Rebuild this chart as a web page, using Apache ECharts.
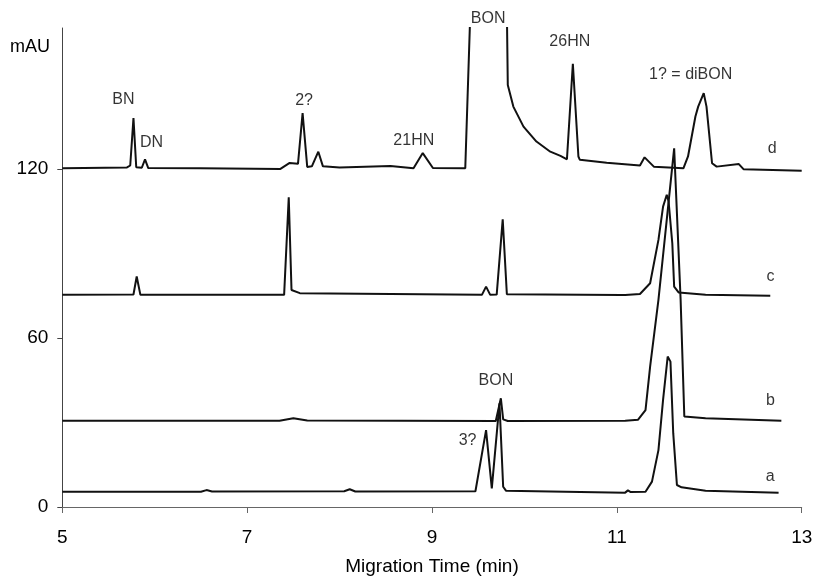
<!DOCTYPE html>
<html>
<head>
<meta charset="utf-8">
<script src="https://cdn.jsdelivr.net/npm/echarts@6/dist/echarts.min.js"></script>
<style>
  html, body { margin: 0; padding: 0; background: #fff; }
  #main { width: 813px; height: 577px; }
</style>
</head>
<body>
<div id="main"></div>
<script>
// electropherogram traces, [migration time (min), absorbance (mAU)]
const traceA = [
  [5.0, 5.4], [6.50, 5.4], [6.56, 6.0], [6.62, 5.5], [8.05, 5.6], [8.11, 6.3], [8.17, 5.5],
  [9.47, 5.6], [9.585, 27.3], [9.647, 6.6], [9.73, 36.8], [9.77, 7.2], [9.80, 5.8],
  [11.09, 5.1], [11.12, 5.9], [11.15, 5.3], [11.31, 5.4], [11.38, 9.0], [11.45, 20.2],
  [11.50, 38.0], [11.55, 53.4], [11.58, 51.6], [11.61, 26.2], [11.65, 7.8], [11.70, 7.0],
  [11.96, 5.8], [12.75, 5.1]
];
const traceB = [
  [5.0, 30.6], [7.35, 30.6], [7.50, 31.5], [7.65, 30.7], [9.69, 30.5], [9.745, 38.6],
  [9.77, 31.1], [9.82, 30.5], [11.09, 30.6], [11.23, 31.0], [11.31, 34.4], [11.36, 49.8],
  [11.45, 73.5], [11.62, 127.3], [11.69, 73.5], [11.73, 32.1], [11.96, 31.5], [12.78, 30.6]
];
const traceC = [
  [5.0, 75.3], [5.77, 75.4], [5.805, 81.8], [5.845, 75.3], [7.40, 75.3], [7.45, 109.9],
  [7.48, 77.0], [7.57, 75.9], [9.54, 75.3], [9.585, 78.2], [9.63, 75.3], [9.70, 75.4],
  [9.765, 102.1], [9.81, 75.5], [11.05, 75.2], [11.07, 75.9], [11.09, 75.2], [11.25, 75.6],
  [11.36, 79.4], [11.45, 94.8], [11.50, 106.6], [11.54, 110.8], [11.56, 108.4],
  [11.60, 93.6], [11.62, 78.2], [11.67, 76.1], [11.96, 75.3], [12.66, 75.0]
];
const traceD = [
  [5.0, 120.2], [5.70, 120.5], [5.735, 121.2], [5.77, 138.0], [5.80, 120.6], [5.86, 120.4],
  [5.895, 123.4], [5.93, 120.3],
  [6.49, 120.2], [7.36, 120.0], [7.46, 122.1], [7.55, 121.8], [7.60, 139.8], [7.65, 120.7],
  [7.70, 120.9], [7.77, 126.1], [7.82, 120.9], [8.00, 120.5], [8.55, 121.0], [8.80, 120.2],
  [8.90, 125.6], [9.01, 120.3], [9.36, 120.2], [9.415, 176], [9.81, 176], [9.82, 149.8],
  [9.88, 142.1], [9.99, 135.0], [10.13, 129.7], [10.28, 126.1], [10.39, 124.6],
  [10.46, 123.4], [10.48, 123.9], [10.524, 157.3], [10.584, 124.4], [10.60, 123.2],
  [10.89, 122.2], [11.25, 121.2], [11.30, 124.1], [11.40, 120.8], [11.72, 120.2],
  [11.77, 124.4], [11.85, 138.6], [11.88, 142.1], [11.94, 146.9], [11.97, 142.1],
  [12.03, 122.0], [12.08, 120.8], [12.32, 121.7], [12.37, 119.9], [13.0, 119.3]
];

// peak and trace labels: [text, time, mAU]
const annotations = [
  ['BN', 5.662, 144.6], ['DN', 5.965, 129.4], ['2?', 7.616, 144.3], ['21HN', 8.803, 130.1],
  ['BON', 9.607, 173.4], ['26HN', 10.491, 165.0], ['1? = diBON', 11.799, 153.6],
  ['BON', 9.692, 44.8], ['3?', 9.385, 23.4],
  ['d', 12.68, 127.2], ['c', 12.662, 81.6], ['b', 12.662, 37.6], ['a', 12.659, 10.8]
];

const xTicks = [5, 7, 9, 11, 13];
const yTicks = [0, 60, 120];

const font = '"Liberation Sans", Arial, sans-serif';

let chartDom = document.getElementById('main');
let myChart = echarts.init(chartDom);

const traceSeries = [traceA, traceB, traceC, traceD].map(function (d) {
  return {
    type: 'line',
    data: d,
    showSymbol: false,
    symbol: 'none',
    clip: true,
    lineStyle: { color: '#111', width: 2 },
    silent: true
  };
});

let option = {
  backgroundColor: '#fff',
  animation: false,
  grid: { left: 62.3, right: 11.3, top: 28, bottom: 70, outerBoundsMode: 'none' },
  graphic: [{
    type: 'text',
    x: 10,
    y: 47.5,
    style: { text: 'mAU', font: '18px ' + font, fill: '#000', verticalAlign: 'middle' }
  }],
  xAxis: {
    type: 'value',
    min: 5,
    max: 13,
    interval: 2,
    name: 'Migration Time (min)',
    nameLocation: 'middle',
    nameGap: 50,
    nameTextStyle: { fontFamily: font, fontSize: 19, color: '#000' },
    axisLine: { lineStyle: { color: '#666', width: 1 } },
    axisTick: { length: 6, lineStyle: { color: '#666' }, customValues: xTicks },
    axisLabel: { fontFamily: font, fontSize: 19, color: '#000', margin: 21, customValues: xTicks },
    splitLine: { show: false }
  },
  yAxis: {
    type: 'value',
    min: 0,
    max: 170,
    interval: 60,
    axisLine: { show: true, lineStyle: { color: '#444', width: 1 } },
    axisTick: { show: true, length: 5, lineStyle: { color: '#444' }, customValues: yTicks },
    axisLabel: { fontFamily: font, fontSize: 19, color: '#000', margin: 14, customValues: yTicks },
    splitLine: { show: false }
  },
  series: traceSeries.concat([{
    type: 'scatter',
    clip: false,
    silent: true,
    symbolSize: 0,
    itemStyle: { color: '#000' },
    data: annotations.map(function (a) { return { name: a[0], value: [a[1], a[2]] }; }),
    label: {
      show: true,
      position: 'inside',
      formatter: '{b}',
      fontFamily: font,
      fontSize: 16,
      color: '#000'
    }
  }])
};

myChart.setOption(option);
</script>
</body>
</html>
